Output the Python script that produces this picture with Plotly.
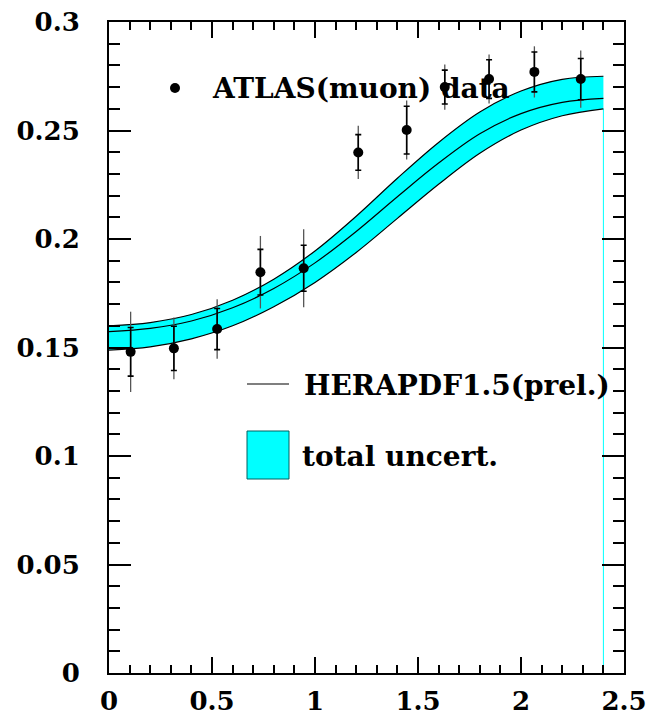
import plotly.graph_objects as go

# ---- data ----
eta = [0.105, 0.315, 0.525, 0.735, 0.945, 1.21, 1.445, 1.63, 1.845, 2.065, 2.29]
asym = [0.148, 0.1496, 0.1585, 0.1847, 0.1865, 0.2399, 0.2502, 0.270, 0.2737, 0.277, 0.2737]
err_stat = [0.0112, 0.0102, 0.0095, 0.0105, 0.0106, 0.0082, 0.0110, 0.0078, 0.0089, 0.0092, 0.0095]
err_tot = [0.0185, 0.0142, 0.0137, 0.0167, 0.0180, 0.0123, 0.0136, 0.0104, 0.0113, 0.0118, 0.0132]

band_x = [0.0, 0.2, 0.4, 0.6, 0.8, 1.0, 1.2, 1.4, 1.6, 1.8, 2.0, 2.2, 2.4]
band_hi = [0.1600, 0.1615, 0.1652, 0.1718, 0.1815, 0.1945, 0.2105, 0.2280, 0.2445, 0.2585, 0.2682, 0.2736, 0.2750]
band_mid = [0.1573, 0.1588, 0.1622, 0.1683, 0.1772, 0.1890, 0.2035, 0.2195, 0.2350, 0.2485, 0.2578, 0.2630, 0.2648]
band_lo = [0.1488, 0.1503, 0.1540, 0.1600, 0.1688, 0.1800, 0.1938, 0.2095, 0.2252, 0.2395, 0.2502, 0.2568, 0.2600]

x_ticks = [0, 0.5, 1, 1.5, 2, 2.5]
x_ticklabels = ["0", "0.5", "1", "1.5", "2", "2.5"]
y_ticks = [0, 0.05, 0.1, 0.15, 0.2, 0.25, 0.3]
y_ticklabels = ["0", "0.05", "0.1", "0.15", "0.2", "0.25", "0.3"]

CYAN = "#00FFFF"
FONT = "DejaVu Serif"

fig = go.Figure()

# artifact vertical cyan edge of the fill area at the band end
fig.add_trace(go.Scatter(x=[band_x[-1], band_x[-1]], y=[0, band_lo[-1]], mode="lines",
                         line=dict(color=CYAN, width=1), hoverinfo="skip", showlegend=False))

# uncertainty band
fig.add_trace(go.Scatter(x=band_x, y=band_lo, mode="lines",
                         line=dict(color="black", width=1.2, shape="spline", smoothing=1.0),
                         showlegend=False))
fig.add_trace(go.Scatter(x=band_x, y=band_hi, mode="lines", fill="tonexty", fillcolor=CYAN,
                         line=dict(color="black", width=1.2, shape="spline", smoothing=1.0),
                         showlegend=False))
fig.add_trace(go.Scatter(x=band_x, y=band_mid, mode="lines",
                         line=dict(color="black", width=1.2, shape="spline", smoothing=1.0),
                         showlegend=False))

# data: total error (no caps), stat error (small caps), markers
fig.add_trace(go.Scatter(x=eta, y=asym, mode="markers",
                         marker=dict(size=1, color="rgba(0,0,0,0)"),
                         error_y=dict(type="data", array=err_tot, visible=True,
                                      color="#555555", thickness=1.3, width=0),
                         showlegend=False))
fig.add_trace(go.Scatter(x=eta, y=asym, mode="markers",
                         marker=dict(size=10, color="black"),
                         error_y=dict(type="data", array=err_stat, visible=True,
                                      color="black", thickness=1.6, width=3),
                         showlegend=False))

L, R, T, B = 109, 30, 22, 48
W, H = 654, 721
pw, ph = W - L - R, H - T - B


def px(x):
    return (x - L) / pw


def py(y):
    return (H - B - y) / ph


txtfont = dict(family=FONT, size=28, color="black", weight="bold")

# legend entries (drawn as layout decorations)
fig.add_shape(type="circle", xref="paper", yref="paper", xsizemode="pixel", ysizemode="pixel",
              xanchor=px(175), yanchor=py(88), x0=-5, x1=5, y0=-5, y1=5,
              fillcolor="black", line=dict(color="black", width=0))
fig.add_annotation(xref="paper", yref="paper", x=px(210), y=py(88), xanchor="left", yanchor="middle",
                   text="ATLAS(muon) data", showarrow=False, font=txtfont)

fig.add_shape(type="line", xref="paper", yref="paper", x0=px(247), x1=px(289), y0=py(384), y1=py(384),
              line=dict(color="black", width=1.2))
fig.add_annotation(xref="paper", yref="paper", x=px(302), y=py(386), xanchor="left", yanchor="middle",
                   text="HERAPDF1.5(prel.)", showarrow=False, font=txtfont)

fig.add_shape(type="rect", xref="paper", yref="paper", x0=px(247), x1=px(289), y0=py(479), y1=py(431),
              fillcolor=CYAN, line=dict(color="#006060", width=1))
fig.add_annotation(xref="paper", yref="paper", x=px(300), y=py(456), xanchor="left", yanchor="middle",
                   text="total uncert.", showarrow=False, font=txtfont)

tickfont = dict(family=FONT, size=26, color="black", weight="bold")

fig.update_xaxes(range=[0, 2.5], tickvals=x_ticks, ticktext=x_ticklabels, automargin=False,
                 showline=True, linecolor="black", linewidth=2, mirror="allticks",
                 ticks="inside", ticklen=16, tickwidth=2, tickcolor="black",
                 minor=dict(dtick=0.1, ticks="inside", ticklen=8, tickwidth=2, tickcolor="black"),
                 showgrid=False, zeroline=False, tickfont=tickfont, ticklabelstandoff=4)
fig.update_yaxes(range=[0, 0.3], tickvals=y_ticks, ticktext=y_ticklabels, automargin=False,
                 showline=True, linecolor="black", linewidth=2, mirror="allticks",
                 ticks="inside", ticklen=22, tickwidth=2, tickcolor="black",
                 minor=dict(dtick=0.01, ticks="inside", ticklen=11, tickwidth=2, tickcolor="black"),
                 showgrid=False, zeroline=False, tickfont=tickfont, ticklabelstandoff=22)

fig.update_layout(width=W, height=H, margin=dict(l=L, r=R, t=T, b=B, autoexpand=False),
                  paper_bgcolor="white", plot_bgcolor="white", showlegend=False)

fig.write_html("out.html")
